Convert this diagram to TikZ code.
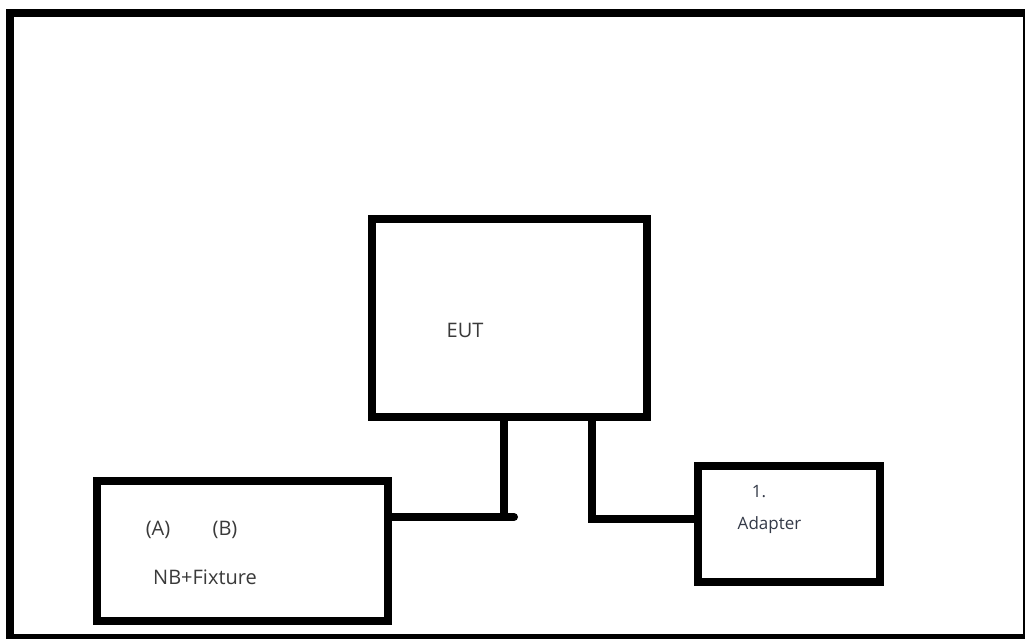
\documentclass[tikz,border=0pt]{standalone}
\usepackage{fontspec}
\setmainfont{Open Sans}
\definecolor{txt}{HTML}{3A3A3A}
\definecolor{txtb}{HTML}{343A48}
\begin{document}
\begin{tikzpicture}[x=1pt,y=-1pt,
  box/.style={draw=black,line width=8pt,rectangle,inner sep=0pt,outer sep=0pt,fill=none},
  conn/.style={draw=black,line width=8pt,line cap=round,line join=miter},
  lbl/.style={anchor=base,inner sep=0pt,text=txt,font=\fontsize{20}{24}\selectfont},
  lbls/.style={anchor=base,inner sep=0pt,text=txtb,font=\fontsize{17}{20}\selectfont}]
\useasboundingbox (0,0) rectangle (1025,639);
\fill[white] (0,0) rectangle (1025,639);
% outer frame
\draw[line width=8pt] (10,13) rectangle (1027,638);
% boxes
\node[box,minimum width=275pt,minimum height=198pt] (eut) at (509.5,318) {};
\node[box,minimum width=291pt,minimum height=140pt] (nb) at (242.5,551) {};
\node[box,minimum width=182pt,minimum height=116pt] (adp) at (789,524) {};
% labels
\node[lbl] (teut) at (465,337) {EUT};
\node[lbl] (ta) at (158,535) {(A)};
\node[lbl] (tb) at (225,535) {(B)};
\node[lbl] (tnb) at (205,584) {NB+Fixture};
\node[lbls] (tone) at (759,497) {1.};
\node[lbls] (tadp) at (769.5,529) {Adapter};
% connectors
\coordinate (j1) at (504,517);
\coordinate (stub) at (514,517);
\coordinate (j2) at (592,519);
\draw[conn,line cap=butt] (eut.south -| j1) -- (j1);
\draw[conn] (nb.east |- j1) -- (stub);
\draw[conn,line cap=butt] (eut.south -| j2) -- (j2) -- (adp.west |- j2);
\end{tikzpicture}
\end{document}
